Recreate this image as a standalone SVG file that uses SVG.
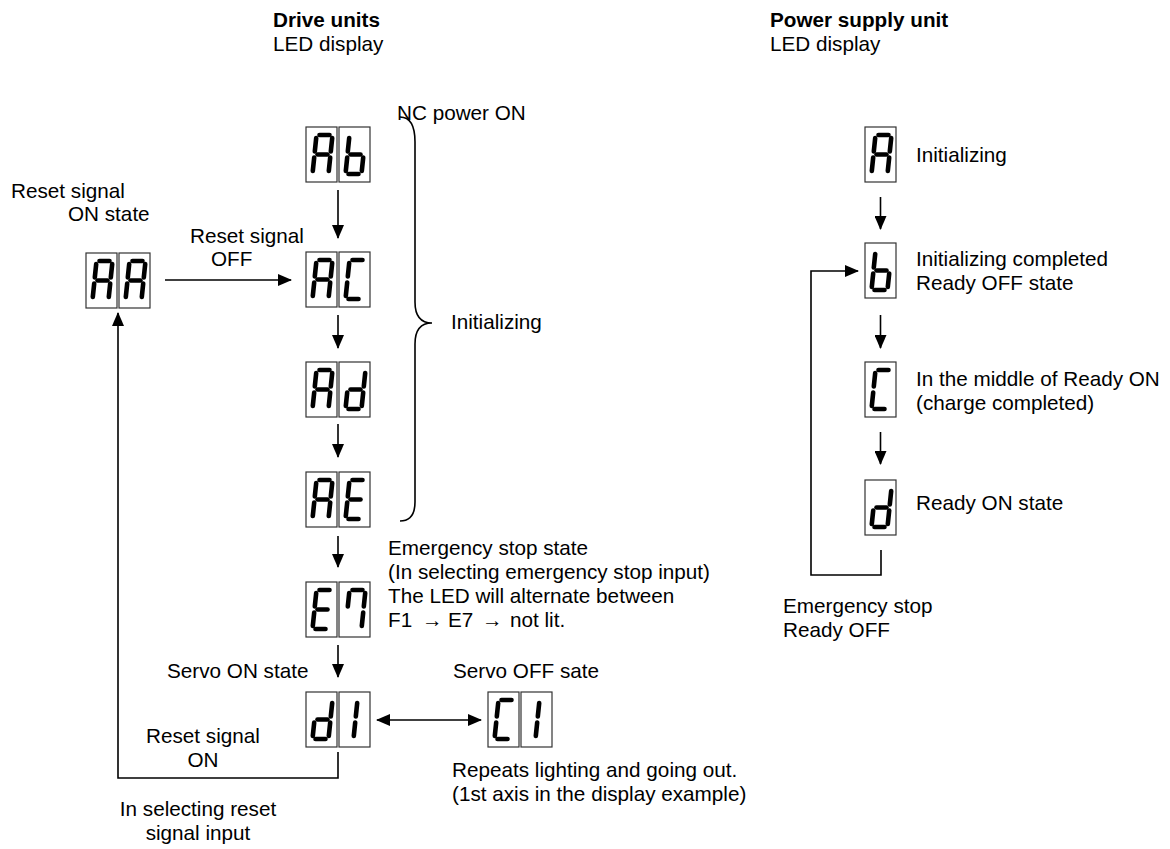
<svg xmlns="http://www.w3.org/2000/svg" xmlns:xlink="http://www.w3.org/1999/xlink" width="1170" height="849" viewBox="0 0 1170 849">
<style>
text{font-family:"Liberation Sans",Arial,"DejaVu Sans",sans-serif;font-size:20.7px;fill:#000}
.b{font-weight:bold}
.box{fill:#fff;stroke:#333;stroke-width:1.2}
.seg{stroke:#000;stroke-width:4.6;stroke-linecap:round;fill:none}
.ln{stroke:#000;stroke-width:1.6;fill:none}
.arr{marker-end:url(#ah)}
</style>
<defs>
<marker id="ah" viewBox="0 0 14 12" refX="13" refY="6" markerWidth="14" markerHeight="12" markerUnits="userSpaceOnUse" orient="auto-start-reverse"><path d="M0,0 L14,6 L0,12 z" fill="#000"/></marker>
<line id="sa" class="seg" x1="13.5" y1="8" x2="23.5" y2="8"/>
<line id="sb" class="seg" x1="26.2" y1="11" x2="24.8" y2="24.5"/>
<line id="sc" class="seg" x1="24.2" y1="30.5" x2="22.8" y2="44"/>
<line id="sd" class="seg" x1="9.5" y1="47" x2="19.5" y2="47"/>
<line id="se" class="seg" x1="8.2" y1="30.5" x2="6.8" y2="44"/>
<line id="sf" class="seg" x1="10.2" y1="11" x2="8.8" y2="24.5"/>
<line id="sg" class="seg" x1="11.5" y1="27.5" x2="21.5" y2="27.5"/>
<line id="s1t" class="seg" x1="18.2" y1="11" x2="16.8" y2="24.5"/>
<line id="s1b" class="seg" x1="16.2" y1="30.5" x2="14.8" y2="44"/>
<rect id="bx" class="box" x="0" y="0" width="31" height="55"/>
<g id="dA"><use xlink:href="#bx"/><use xlink:href="#sa"/><use xlink:href="#sb"/><use xlink:href="#sc"/><use xlink:href="#se"/><use xlink:href="#sf"/><use xlink:href="#sg"/></g>
<g id="db"><use xlink:href="#bx"/><use xlink:href="#sc"/><use xlink:href="#sd"/><use xlink:href="#se"/><use xlink:href="#sf"/><use xlink:href="#sg"/></g>
<g id="dC"><use xlink:href="#bx"/><use xlink:href="#sa"/><use xlink:href="#sd"/><use xlink:href="#se"/><use xlink:href="#sf"/></g>
<g id="dd"><use xlink:href="#bx"/><use xlink:href="#sb"/><use xlink:href="#sc"/><use xlink:href="#sd"/><use xlink:href="#se"/><use xlink:href="#sg"/></g>
<g id="dE"><use xlink:href="#bx"/><use xlink:href="#sa"/><use xlink:href="#sd"/><use xlink:href="#se"/><use xlink:href="#sf"/><use xlink:href="#sg"/></g>
<g id="d7"><use xlink:href="#bx"/><use xlink:href="#sa"/><use xlink:href="#sb"/><use xlink:href="#sc"/><use xlink:href="#sf"/></g>
<g id="d1"><use xlink:href="#bx"/><use xlink:href="#s1t"/><use xlink:href="#s1b"/></g>
</defs>
<rect width="1170" height="849" fill="#fff"/>

<g id="headings">
<text class="b" x="273" y="27">Drive units</text>
<text x="273" y="51">LED display</text>
<text class="b" x="770" y="27">Power supply unit</text>
<text x="770" y="51">LED display</text>
</g>

<g id="node-Ab"><use xlink:href="#dA" x="306" y="127"/><use xlink:href="#db" x="339" y="127"/></g>
<g id="node-AC"><use xlink:href="#dA" x="306" y="252"/><use xlink:href="#dC" x="339" y="252"/></g>
<g id="node-Ad"><use xlink:href="#dA" x="306" y="362"/><use xlink:href="#dd" x="339" y="362"/></g>
<g id="node-AE"><use xlink:href="#dA" x="306" y="472"/><use xlink:href="#dE" x="339" y="472"/></g>
<g id="node-E7"><use xlink:href="#dE" x="306" y="582"/><use xlink:href="#d7" x="339" y="582"/></g>
<g id="node-d1"><use xlink:href="#dd" x="306" y="692"/><use xlink:href="#d1" x="339" y="692"/></g>
<g id="node-C1"><use xlink:href="#dC" x="488" y="692"/><use xlink:href="#d1" x="521" y="692"/></g>
<g id="node-AA"><use xlink:href="#dA" x="86" y="253"/><use xlink:href="#dA" x="119" y="253"/></g>

<g id="node-psA"><use xlink:href="#dA" x="865" y="127"/></g>
<g id="node-psb"><use xlink:href="#db" x="865" y="243"/></g>
<g id="node-psC"><use xlink:href="#dC" x="865" y="362"/></g>
<g id="node-psd"><use xlink:href="#dd" x="865" y="480"/></g>

<g id="connectors">
<line class="ln arr" x1="338" y1="190" x2="338" y2="238"/>
<line class="ln arr" x1="338" y1="315" x2="338" y2="348"/>
<line class="ln arr" x1="338" y1="424" x2="338" y2="457"/>
<line class="ln arr" x1="338" y1="536" x2="338" y2="567"/>
<line class="ln arr" x1="338" y1="645" x2="338" y2="677"/>
<line class="ln arr" x1="165" y1="280" x2="291" y2="280"/>
<line class="ln arr" x1="377" y1="720" x2="481" y2="720" marker-start="url(#ah)"/>
<polyline class="ln arr" points="338,752 338,778 118,778 118,313"/>
<line class="ln arr" x1="880.5" y1="197" x2="880.5" y2="229"/>
<line class="ln arr" x1="880.5" y1="315" x2="880.5" y2="348"/>
<line class="ln arr" x1="880.5" y1="432" x2="880.5" y2="464"/>
<polyline class="ln arr" points="881,550 881,575 811,575 811,271 858,271"/>
<path class="ln" d="M400,117 C411,117 415,126 415,142 L415,302 C415,316 421,323 432,323 C421,323 415,330 415,344 L415,502 C415,514 411,521 400,521"/>
</g>

<g id="labels">
<text x="397" y="120">NC power ON</text>
<text x="451" y="329">Initializing</text>
<text x="11" y="198">Reset signal</text>
<text x="68" y="221">ON state</text>
<text x="190" y="243">Reset signal</text>
<text x="211" y="266">OFF</text>
<text x="388" y="555">Emergency stop state</text>
<text x="388" y="579">(In selecting emergency stop input)</text>
<text x="388" y="603">The LED will alternate between</text>
<text y="627"><tspan x="388">F1</tspan><tspan x="422">→</tspan><tspan x="448">E7</tspan><tspan x="482">→</tspan><tspan x="510">not lit.</tspan></text>
<text x="167" y="678">Servo ON state</text>
<text x="453" y="678">Servo OFF sate</text>
<text x="203" y="743" text-anchor="middle">Reset signal</text>
<text x="203" y="767" text-anchor="middle">ON</text>
<text x="452" y="777">Repeats lighting and going out.</text>
<text x="452" y="801">(1st axis in the display example)</text>
<text x="198" y="816" text-anchor="middle">In selecting reset</text>
<text x="198" y="840" text-anchor="middle">signal input</text>
<text x="916" y="162">Initializing</text>
<text x="916" y="266">Initializing completed</text>
<text x="916" y="290">Ready OFF state</text>
<text x="916" y="386">In the middle of Ready ON</text>
<text x="916" y="410">(charge completed)</text>
<text x="916" y="510">Ready ON state</text>
<text x="783" y="613">Emergency stop</text>
<text x="783" y="637">Ready OFF</text>
</g>
</svg>
